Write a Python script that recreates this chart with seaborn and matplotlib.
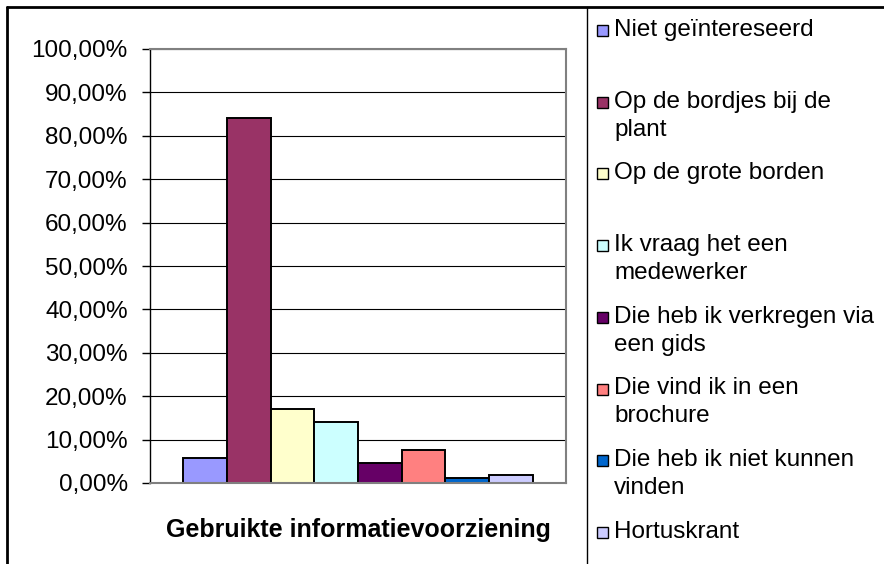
import pandas as pd
import matplotlib.pyplot as plt
import seaborn as sns
from matplotlib.patches import Rectangle
from matplotlib.lines import Line2D

# Data (percentages)
groep = "Gebruikte informatievoorziening"
bronnen = [
    "Niet geïntereseerd",
    "Op de bordjes bij de plant",
    "Op de grote borden",
    "Ik vraag het een medewerker",
    "Die heb ik verkregen via een gids",
    "Die vind ik in een brochure",
    "Die heb ik niet kunnen vinden",
    "Hortuskrant",
]
legend_regels = [
    ["Niet geïntereseerd"],
    ["Op de bordjes bij de", "plant"],
    ["Op de grote borden"],
    ["Ik vraag het een", "medewerker"],
    ["Die heb ik verkregen via", "een gids"],
    ["Die vind ik in een", "brochure"],
    ["Die heb ik niet kunnen", "vinden"],
    ["Hortuskrant"],
]
percentages = [5.8, 84.2, 17.0, 14.0, 4.5, 7.7, 1.1, 1.8]
kleuren = ["#9999FF", "#993366", "#FFFFCC", "#CCFFFF",
           "#660066", "#FF8080", "#0066CC", "#CCCCFF"]
y_ticks = list(range(0, 101, 10))

df = pd.DataFrame({"groep": groep, "bron": bronnen, "waarde": percentages})

sns.set_theme(style="white")
plt.rcParams["font.family"] = ["Liberation Sans", "DejaVu Sans"]
FS = 17.5

W, H = 884, 564
fig = plt.figure(figsize=(W / 100, H / 100), dpi=100)

# plot area in pixel terms
x0, x1, y0, y1 = 150, 566, 49, 483
ax = fig.add_axes([x0 / W, 1 - y1 / H, (x1 - x0) / W, (y1 - y0) / H])

sns.barplot(data=df, x="groep", y="waarde", hue="bron", hue_order=bronnen,
            palette=kleuren, width=0.84, edgecolor="black", linewidth=1.4,
            legend=False, ax=ax, saturation=1)

ax.set_xlim(-0.5, 0.5)
ax.set_ylim(0, 100)
ax.set_yticks(y_ticks)
ax.set_yticklabels([f"{v:.2f}%".replace(".", ",") for v in y_ticks], fontsize=FS, color="black")
ax.tick_params(axis="y", direction="out", length=6, width=1, color="black", pad=10, left=True)
ax.set_xticks([])
ax.set_xlabel(groep, fontsize=18, fontweight="bold", color="black", labelpad=25)
ax.set_ylabel("")
ax.set_axisbelow(True)
ax.yaxis.grid(True, color="black", linewidth=0.8)
for s in ["top", "right", "bottom"]:
    ax.spines[s].set_color("#808080")
    ax.spines[s].set_linewidth(1.5)
ax.spines["left"].set_color("black")
ax.spines["left"].set_linewidth(1)
ax.patch.set_facecolor("white")

# outer chart frame and legend box edge
fig.add_artist(Line2D([7 / W, 7 / W], [1 - 7 / H, -0.1], color="black", lw=2, transform=fig.transFigure))
fig.add_artist(Line2D([7 / W, 1.1], [1 - 7 / H, 1 - 7 / H], color="black", lw=2, transform=fig.transFigure))
fig.add_artist(Line2D([587 / W, 587 / W], [1 - 7 / H, -0.1], color="black", lw=1, transform=fig.transFigure))

# legend, drawn by hand so the swatch sits on the first text line
for i, (regels, kleur) in enumerate(zip(legend_regels, kleuren)):
    yc = 30 + 71.7 * i
    fig.add_artist(Rectangle((597 / W, 1 - (yc + 6) / H), 11 / W, 11 / H, facecolor=kleur,
                             edgecolor="black", lw=1, transform=fig.transFigure))
    for j, regel in enumerate(regels):
        fig.text(614 / W, 1 - (yc + 28 * j) / H, regel, fontsize=FS, color="black",
                 va="center", ha="left")

fig.savefig("out.png", dpi=100)
